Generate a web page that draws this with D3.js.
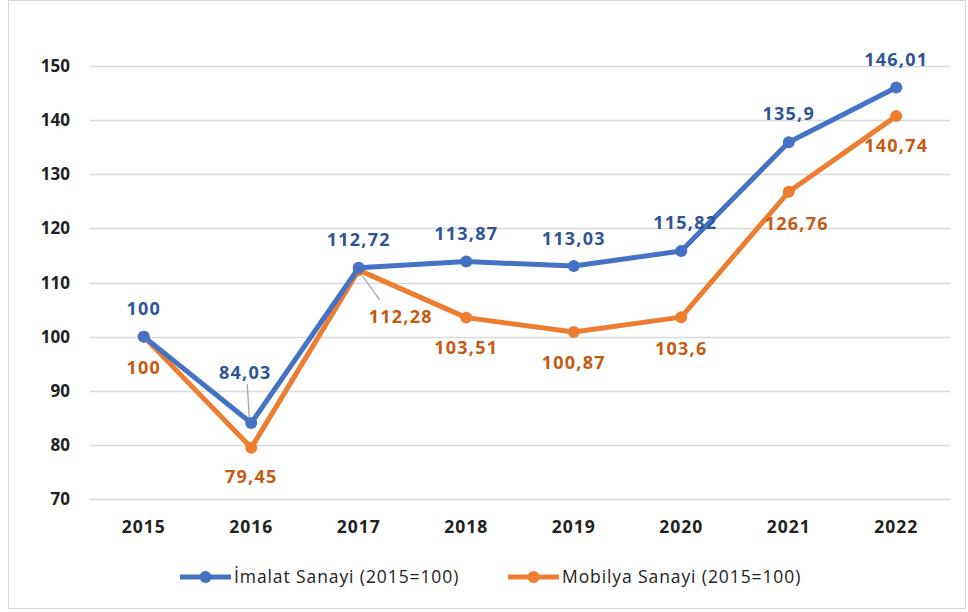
<!DOCTYPE html>
<meta charset="utf-8">
<style>
    body { margin: 0; background: #fff; }
    text { font-family: "Open Sans", sans-serif; }
</style>
<svg width="968" height="612"></svg>
<script src="https://d3js.org/d3.v7.min.js"></script>
<script>
    var years = ["2015", "2016", "2017", "2018", "2019", "2020", "2021", "2022"];
    var imalat = [100, 84.03, 112.72, 113.87, 113.03, 115.82, 135.9, 146.01];
    var mobilya = [100, 79.45, 112.28, 103.51, 100.87, 103.6, 126.76, 140.74];
    var yTicks = [70, 80, 90, 100, 110, 120, 130, 140, 150];
    var seriesNames = ["İmalat Sanayi (2015=100)", "Mobilya Sanayi (2015=100)"];

    // label offsets (px) relative to each point
    var imalatLabelOff = [[0, -28], [-6, -51], [0, -28], [0, -28], [0, -28], [4, -28], [0, -29], [0, -28]];
    var mobilyaLabelOff = [[0, 31], [0, 29], [42, 46], [0, 30], [0, 31], [0, 31], [8, 32], [0, 29]];

    var svg = d3.select("svg"),
        margin = { left: 90, right: 18, top: 66, bottom: 113 },
        width = 968 - margin.left - margin.right,
        height = 612 - margin.top - margin.bottom;

    svg.append("rect")
        .attr("x", 8.5).attr("y", 0.5)
        .attr("width", 957).attr("height", 608)
        .attr("fill", "#fff")
        .attr("stroke", "#d9d9d9");

    var g = svg.append("g").attr("transform", "translate(" + margin.left + "," + margin.top + ")");

    var x = d3.scaleBand().domain(years).range([0, width]);
    var y = d3.scaleLinear().domain([70, 150]).range([height, 0]);
    var cx = function (d, i) { return x(years[i]) + x.bandwidth() / 2; };

    // grid
    g.append("g").selectAll("line")
        .data(yTicks)
        .enter().append("line")
        .attr("x1", 0).attr("x2", width)
        .attr("y1", function (d) { return Math.round(y(d)) + 0.5; })
        .attr("y2", function (d) { return Math.round(y(d)) + 0.5; })
        .attr("stroke", "#d9d9d9")
        .attr("stroke-width", 1.5);

    // y axis labels
    g.append("g").selectAll("text")
        .data(yTicks)
        .enter().append("text")
        .attr("x", -20)
        .attr("y", function (d) { return y(d); })
        .attr("dy", "0.36em")
        .attr("text-anchor", "end")
        .attr("font-size", 17)
        .attr("font-weight", "bold")
        .attr("fill", "#222")
        .text(function (d) { return d; });

    // x axis labels
    g.append("g").selectAll("text")
        .data(years)
        .enter().append("text")
        .attr("x", function (d) { return x(d) + x.bandwidth() / 2; })
        .attr("y", height + 34)
        .attr("text-anchor", "middle")
        .attr("font-size", 17.5)
        .attr("letter-spacing", 1)
        .attr("font-weight", "bold")
        .attr("fill", "#222")
        .text(function (d) { return d; });

    var fmt = function (v) { return String(v).replace(".", ","); };

    var series = [
        { values: imalat, color: "#4472c4", label: "#2f5597", off: imalatLabelOff },
        { values: mobilya, color: "#ed7d31", label: "#c55a11", off: mobilyaLabelOff }
    ];

    var line = d3.line()
        .x(cx)
        .y(function (d) { return y(d); });

    // leader lines
    var leaders = [[0, 1], [1, 2]];
    leaders.forEach(function (l) {
        var s = series[l[0]], i = l[1];
        var px = cx(null, i), py = y(s.values[i]), o = s.off[i];
        var sgn = o[1] < 0 ? -1 : 1;
        g.append("line")
            .attr("x1", px + (o[0] > 20 ? 4 : -2)).attr("y1", py + sgn * 6)
            .attr("x2", px + o[0] * (o[0] > 20 ? 0.5 : 1) + (o[0] > 20 ? 0 : 2))
            .attr("y2", py + o[1] - sgn * (o[0] > 20 ? 16 : 12))
            .attr("stroke", "#a6a6a6")
            .attr("stroke-width", 1.3);
    });

    series.slice().reverse().forEach(function (s) {
        g.append("path")
            .attr("d", line(s.values))
            .attr("fill", "none")
            .attr("stroke", s.color)
            .attr("stroke-width", 5)
            .attr("stroke-linejoin", "round");
        g.append("g").selectAll("circle")
            .data(s.values)
            .enter().append("circle")
            .attr("cx", cx)
            .attr("cy", function (d) { return y(d); })
            .attr("r", 6)
            .attr("fill", s.color);
    });

    series.forEach(function (s) {
        g.append("g").selectAll("text")
            .data(s.values)
            .enter().append("text")
            .attr("x", function (d, i) { return cx(d, i) + s.off[i][0]; })
            .attr("y", function (d, i) { return y(d) + s.off[i][1]; })
            .attr("dy", "0.36em")
            .attr("text-anchor", "middle")
            .attr("font-size", 18)
            .attr("letter-spacing", 1.2)
            .attr("font-weight", "bold")
            .attr("fill", s.label)
            .text(fmt);
    });

    // legend
    var legendX = [180, 508];
    var legend = svg.append("g").selectAll("g")
        .data(series)
        .enter().append("g")
        .attr("transform", function (d, i) { return "translate(" + legendX[i] + ",577)"; });
    legend.append("line")
        .attr("x1", 0).attr("x2", 51)
        .attr("stroke", function (d) { return d.color; })
        .attr("stroke-width", 5);
    legend.append("circle")
        .attr("cx", 25.5).attr("r", 6)
        .attr("fill", function (d) { return d.color; });
    legend.append("text")
        .attr("x", 54)
        .attr("dy", "0.36em")
        .attr("font-size", 17.5)
        .attr("letter-spacing", 0.9)
        .attr("font-weight", 500)
        .attr("fill", "#222")
        .text(function (d, i) { return seriesNames[i]; });
</script>
